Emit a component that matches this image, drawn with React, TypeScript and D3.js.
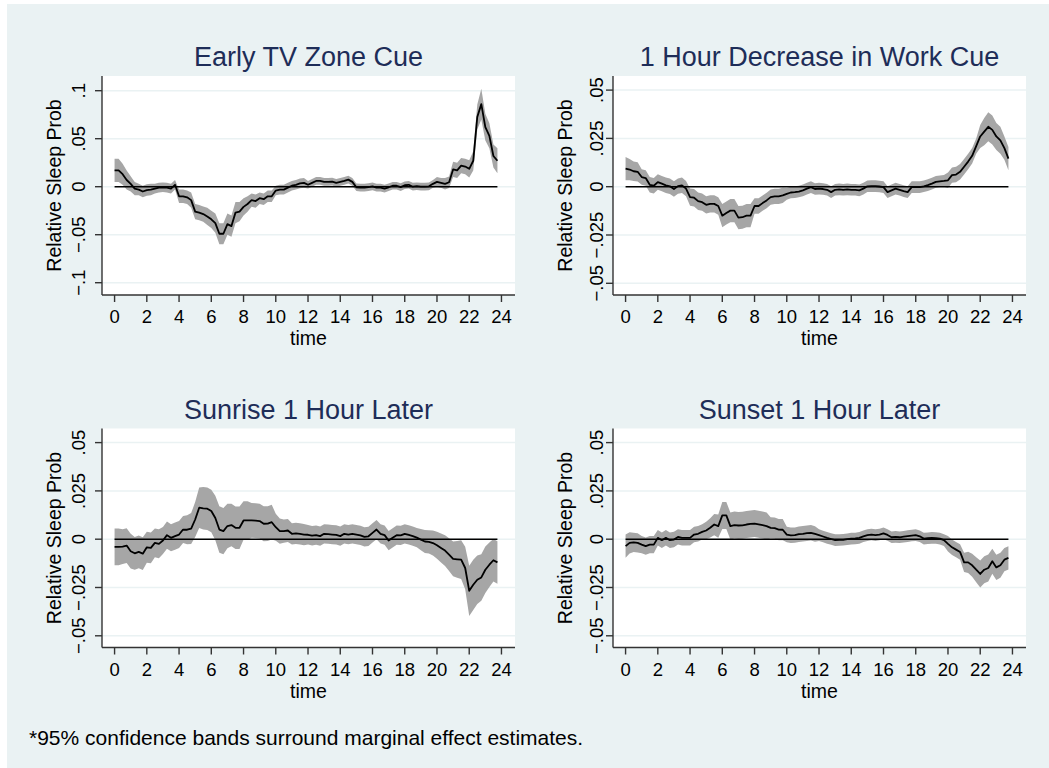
import { useRef, useEffect } from 'react'
import * as d3 from 'd3'

// quarter-hour grid used by every panel
const hours = d3.range(0, 24, 0.25)
const xTicks = d3.range(0, 25, 2)

const tvEst = [
  0.017, 0.017, 0.013, 0.007, 0.003, -0.002, -0.003, -0.005,
  -0.0035, -0.003, -0.002, -0.001, -0.0006, -0.001, -0.002, 0.002,
  -0.01, -0.01, -0.011, -0.014, -0.026, -0.027, -0.0285, -0.031,
  -0.034, -0.038, -0.049, -0.049, -0.039, -0.041, -0.027, -0.026,
  -0.021, -0.018, -0.014, -0.015, -0.012, -0.013, -0.01, -0.01,
  -0.004, -0.003, -0.003, -0.001, 0.001, 0.002, 0.0035, 0.004,
  0.002, 0.004, 0.006, 0.006, 0.005, 0.005, 0.0053, 0.004,
  0.005, 0.006, 0.0074, 0.005, -0.0006, -0.001, -0.001, -0.0005,
  0.0004, -0.001, -0.001, -0.002, -0.0006, 0.001, 0.001, -0.0005,
  0.0015, 0.002, 0, 0.0005, 0, 0, 0.0004, 0.003,
  0.005, 0.004, 0.003, 0.0046, 0.018, 0.017, 0.022, 0.021,
  0.0186, 0.027, 0.0726, 0.086, 0.062, 0.053, 0.032, 0.027,
]
const tvCi = [
  0.012, 0.012, 0.011, 0.01, 0.008, 0.007, 0.006, 0.006,
  0.006, 0.006, 0.005, 0.005, 0.005, 0.005, 0.005, 0.005,
  0.007, 0.007, 0.007, 0.008, 0.008, 0.008, 0.008, 0.009,
  0.009, 0.01, 0.011, 0.011, 0.011, 0.011, 0.011, 0.01,
  0.009, 0.008, 0.007, 0.007, 0.006, 0.006, 0.006, 0.006,
  0.005, 0.005, 0.005, 0.005, 0.005, 0.005, 0.005, 0.005,
  0.004, 0.004, 0.004, 0.004, 0.004, 0.004, 0.004, 0.004,
  0.004, 0.004, 0.004, 0.004, 0.004, 0.004, 0.004, 0.004,
  0.004, 0.004, 0.004, 0.004, 0.004, 0.004, 0.004, 0.004,
  0.004, 0.004, 0.004, 0.004, 0.004, 0.004, 0.004, 0.004,
  0.005, 0.005, 0.006, 0.006, 0.008, 0.008, 0.008, 0.008,
  0.009, 0.01, 0.013, 0.016, 0.014, 0.013, 0.012, 0.013,
]

const workEst = [
  0.0094, 0.0089, 0.008, 0.0077, 0.005, 0.0045, 0.001, 0.0005,
  0.0024, 0.0016, 0.0007, 0.0002, -0.0012, 0.0003, 0.0007, -0.001,
  -0.0054, -0.0057, -0.0075, -0.008, -0.0094, -0.0089, -0.0089, -0.01,
  -0.015, -0.0136, -0.0124, -0.0124, -0.016, -0.0158, -0.015, -0.015,
  -0.01, -0.01, -0.0085, -0.0071, -0.0054, -0.005, -0.005, -0.0045,
  -0.0037, -0.003, -0.0028, -0.0025, -0.0019, -0.001, -0.0002, -0.0012,
  -0.001, -0.0012, -0.0016, -0.0028, -0.0016, -0.0014, -0.0016, -0.0014,
  -0.0016, -0.0016, -0.0019, -0.001, 0.0002, 0.0003, 0.0003, 0.0001,
  -0.0002, -0.0028, -0.0019, -0.001, -0.0016, -0.0023, -0.0028, -0.0002,
  -0.0002, -0.0002, 0.0002, 0.0008, 0.0016, 0.0025, 0.0028, 0.003,
  0.0033, 0.006, 0.0063, 0.0077, 0.0103, 0.013, 0.016, 0.021,
  0.026, 0.0285, 0.031, 0.0294, 0.026, 0.024, 0.02, 0.0145,
]
const workCi = [
  0.006, 0.0055, 0.005, 0.005, 0.004, 0.004, 0.004, 0.004,
  0.004, 0.004, 0.004, 0.004, 0.004, 0.004, 0.004, 0.004,
  0.0045, 0.0045, 0.0045, 0.0045, 0.0045, 0.0045, 0.0045, 0.0045,
  0.006, 0.006, 0.006, 0.006, 0.006, 0.006, 0.006, 0.006,
  0.004, 0.004, 0.004, 0.004, 0.004, 0.004, 0.004, 0.004,
  0.003, 0.003, 0.003, 0.003, 0.003, 0.003, 0.003, 0.003,
  0.003, 0.003, 0.003, 0.003, 0.003, 0.003, 0.003, 0.003,
  0.003, 0.003, 0.003, 0.003, 0.003, 0.003, 0.003, 0.003,
  0.003, 0.003, 0.003, 0.003, 0.003, 0.003, 0.003, 0.003,
  0.003, 0.003, 0.003, 0.003, 0.003, 0.003, 0.003, 0.003,
  0.004, 0.004, 0.004, 0.004, 0.004, 0.004, 0.004, 0.004,
  0.006, 0.007, 0.0075, 0.0075, 0.007, 0.007, 0.006, 0.006,
]

const sunriseEst = [
  -0.004, -0.004, -0.0038, -0.0033, -0.0062, -0.0073, -0.0066, -0.0075,
  -0.0042, -0.0045, -0.0019, -0.0024, -0.0007, 0.0021, 0.0007, 0.0016,
  0.0024, 0.005, 0.0049, 0.0055, 0.0102, 0.0163, 0.016, 0.0158,
  0.0146, 0.011, 0.005, 0.0042, 0.0068, 0.0073, 0.0059, 0.0059,
  0.0097, 0.0097, 0.0097, 0.0096, 0.0094, 0.008, 0.0081, 0.0088,
  0.0062, 0.0042, 0.0042, 0.0045, 0.0028, 0.003, 0.0028, 0.0024,
  0.0023, 0.0018, 0.0021, 0.0016, 0.0028, 0.0026, 0.0024, 0.0022,
  0.0016, 0.0028, 0.0024, 0.0028, 0.0024, 0.002, 0.0012, 0.0015,
  0.0033, 0.005, 0.0028, 0.0021, -0.0007, 0.0007, 0.0021, 0.002,
  0.0028, 0.0022, 0.0016, 0.0008, -0.0002, -0.0012, -0.0014, -0.002,
  -0.0031, -0.0045, -0.0059, -0.008, -0.0102, -0.0104, -0.0106, -0.0149,
  -0.0267, -0.0236, -0.021, -0.0198, -0.0158, -0.0132, -0.0109, -0.012,
]
const sunriseCi = [
  0.0095, 0.0095, 0.009, 0.009, 0.009, 0.0085, 0.0085, 0.0085,
  0.008, 0.008, 0.0075, 0.0075, 0.007, 0.007, 0.007, 0.007,
  0.007, 0.007, 0.0075, 0.008, 0.009, 0.0105, 0.011, 0.011,
  0.011, 0.0115, 0.012, 0.012, 0.0115, 0.011, 0.011, 0.011,
  0.01, 0.01, 0.009, 0.009, 0.009, 0.009, 0.009, 0.009,
  0.007, 0.0065, 0.006, 0.006, 0.0055, 0.0055, 0.0055, 0.0055,
  0.005, 0.005, 0.005, 0.005, 0.005, 0.005, 0.005, 0.005,
  0.005, 0.005, 0.005, 0.005, 0.005, 0.005, 0.005, 0.005,
  0.005, 0.005, 0.005, 0.005, 0.005, 0.005, 0.005, 0.005,
  0.005, 0.005, 0.005, 0.005, 0.0055, 0.006, 0.006, 0.0065,
  0.007, 0.0075, 0.008, 0.0085, 0.009, 0.0095, 0.01, 0.011,
  0.013, 0.013, 0.0125, 0.012, 0.012, 0.0115, 0.011, 0.011,
]

const sunsetEst = [
  -0.0036, -0.0019, -0.0016, -0.0019, -0.0028, -0.0036, -0.0028, -0.0028,
  0.0007, -0.0005, 0.0007, -0.0005, -0.0002, 0.0012, 0.0007, 0.0007,
  0.0007, 0.0024, 0.0028, 0.0038, 0.0045, 0.0059, 0.0076, 0.0068,
  0.0123, 0.0123, 0.0068, 0.0073, 0.0071, 0.0072, 0.0076, 0.0079,
  0.0081, 0.0077, 0.0073, 0.0068, 0.0059, 0.0057, 0.005, 0.0049,
  0.0024, 0.002, 0.0021, 0.0026, 0.0028, 0.0031, 0.0033, 0.0027,
  0.0021, 0.0014, 0.0007, 0.0001, -0.0005, -0.0004, -0.0003, 0,
  0.0003, 0.0004, 0.0007, 0.0015, 0.0021, 0.0024, 0.0021, 0.0024,
  0.003, 0.0022, 0.001, 0.0012, 0.001, 0.0013, 0.0016, 0.0019,
  0.0021, 0.0015, 0.0003, 0.0005, 0.0007, 0.0006, 0.0003, -0.0005,
  -0.0024, -0.0042, -0.0054, -0.0066, -0.012, -0.012, -0.0135, -0.0158,
  -0.018, -0.0158, -0.0149, -0.0114, -0.0146, -0.0135, -0.0106, -0.0097,
]
const sunsetCi = [
  0.006, 0.0055, 0.005, 0.005, 0.0045, 0.0045, 0.0045, 0.0045,
  0.004, 0.004, 0.004, 0.004, 0.004, 0.004, 0.004, 0.004,
  0.004, 0.004, 0.004, 0.004, 0.0045, 0.005, 0.0055, 0.006,
  0.007, 0.007, 0.007, 0.007, 0.007, 0.007, 0.007, 0.007,
  0.007, 0.007, 0.007, 0.007, 0.0055, 0.0055, 0.0055, 0.0055,
  0.004, 0.004, 0.004, 0.004, 0.004, 0.004, 0.004, 0.004,
  0.003, 0.003, 0.003, 0.003, 0.003, 0.003, 0.003, 0.003,
  0.003, 0.003, 0.003, 0.003, 0.003, 0.003, 0.003, 0.003,
  0.003, 0.003, 0.003, 0.003, 0.003, 0.003, 0.003, 0.003,
  0.003, 0.003, 0.003, 0.003, 0.003, 0.003, 0.003, 0.003,
  0.004, 0.004, 0.004, 0.004, 0.005, 0.0055, 0.006, 0.0065,
  0.007, 0.007, 0.007, 0.0065, 0.0065, 0.0065, 0.006, 0.006,
]

const titles = ['Early TV Zone Cue', '1 Hour Decrease in Work Cue', 'Sunrise 1 Hour Later', 'Sunset 1 Hour Later']
const estimates = [tvEst, workEst, sunriseEst, sunsetEst]
const bands = [tvCi, workCi, sunriseCi, sunsetCi]

const wideTicks = [-0.1, -0.05, 0, 0.05, 0.1]
const wideLabels = ['−.1', '−.05', '0', '.05', '.1']
const narrowTicks = [-0.05, -0.025, 0, 0.025, 0.05]
const narrowLabels = ['−.05', '−.025', '0', '.025', '.05']

const FONT = '"Liberation Sans", Arial, Helvetica, sans-serif'

export default function App() {
  const svgRef = useRef<SVGSVGElement>(null)

  useEffect(() => {
    if (!svgRef.current) return
    const svg = d3.select(svgRef.current)
    svg.selectAll('*').remove()

    // page background
    svg.append('rect')
      .attr('x', 7).attr('y', 4)
      .attr('width', 1049 - 7).attr('height', 768 - 4)
      .attr('fill', '#eaf2f3')

    // plot box of top-left panel; others are offset
    const box = { left: 102, right: 515, top: 76, bottom: 295 }
    const colStep = 511
    const rowStep = 352.5

    titles.forEach((title, i) => {
      const col = i % 2
      const row = Math.floor(i / 2)
      const g = svg.append('g')
        .attr('transform', `translate(${col * colStep},${row * rowStep})`)

      const wide = i === 0
      const ticks = wide ? wideTicks : narrowTicks
      const labels = wide ? wideLabels : narrowLabels

      const x = d3.scaleLinear().domain([-0.78, 24.84]).range([box.left, box.right])
      const y = d3.scaleLinear()
        .domain(wide ? [-0.1128, 0.1153] : [-0.05606, 0.0573])
        .range([box.bottom, box.top])

      g.append('rect')
        .attr('x', box.left).attr('y', box.top)
        .attr('width', box.right - box.left).attr('height', box.bottom - box.top)
        .attr('fill', '#ffffff')

      // grid lines
      g.selectAll('.grid')
        .data(ticks)
        .join('line')
        .attr('x1', box.left).attr('x2', box.right)
        .attr('y1', (d) => y(d)).attr('y2', (d) => y(d))
        .attr('stroke', '#eaf2f3')
        .attr('stroke-width', 1.5)

      // confidence band
      const area = d3.area<number>()
        .x((_, k) => x(hours[k]))
        .y0((d, k) => y(d - bands[i][k]))
        .y1((d, k) => y(d + bands[i][k]))
      g.append('path')
        .datum(estimates[i])
        .attr('d', area)
        .attr('fill', '#a6a6a6')

      // zero reference
      g.append('line')
        .attr('x1', x(hours[0])).attr('x2', x(hours[hours.length - 1]))
        .attr('y1', y(0)).attr('y2', y(0))
        .attr('stroke', '#000').attr('stroke-width', 1.5)

      const line = d3.line<number>()
        .x((_, k) => x(hours[k]))
        .y((d) => y(d))
      g.append('path')
        .datum(estimates[i])
        .attr('d', line)
        .attr('fill', 'none')
        .attr('stroke', '#000')
        .attr('stroke-width', 1.8)
        .attr('stroke-linejoin', 'round')

      // axes
      g.append('line')
        .attr('x1', box.left).attr('x2', box.left)
        .attr('y1', box.top).attr('y2', box.bottom)
        .attr('stroke', '#333').attr('stroke-width', 1.4)
      g.append('line')
        .attr('x1', box.left).attr('x2', box.right)
        .attr('y1', box.bottom).attr('y2', box.bottom)
        .attr('stroke', '#333').attr('stroke-width', 1.4)

      g.selectAll('.ytick')
        .data(ticks)
        .join('line')
        .attr('x1', box.left - 7).attr('x2', box.left)
        .attr('y1', (d) => y(d)).attr('y2', (d) => y(d))
        .attr('stroke', '#333').attr('stroke-width', 1.4)

      const labelX = col === 0 ? 85 : 92
      g.selectAll('.ylab')
        .data(ticks)
        .join('text')
        .attr('transform', (d) => `translate(${labelX},${y(d)}) rotate(-90)`)
        .attr('text-anchor', 'middle')
        .attr('font-family', FONT)
        .attr('font-size', 18.5)
        .attr('fill', '#000')
        .text((_, k) => labels[k])

      g.selectAll('.xtick')
        .data(xTicks)
        .join('line')
        .attr('x1', (d) => x(d)).attr('x2', (d) => x(d))
        .attr('y1', box.bottom).attr('y2', box.bottom + 7)
        .attr('stroke', '#333').attr('stroke-width', 1.4)

      g.selectAll('.xlab')
        .data(xTicks)
        .join('text')
        .attr('x', (d) => x(d))
        .attr('y', 323)
        .attr('text-anchor', 'middle')
        .attr('font-family', FONT)
        .attr('font-size', 18.5)
        .attr('fill', '#000')
        .text((d) => String(d))

      const midX = (box.left + box.right) / 2
      g.append('text')
        .attr('x', midX).attr('y', 345)
        .attr('text-anchor', 'middle')
        .attr('font-family', FONT)
        .attr('font-size', 19.5)
        .attr('fill', '#000')
        .text('time')

      g.append('text')
        .attr('transform', `translate(61,${(box.top + box.bottom) / 2}) rotate(-90)`)
        .attr('text-anchor', 'middle')
        .attr('font-family', FONT)
        .attr('font-size', 19.5)
        .attr('fill', '#000')
        .text('Relative Sleep Prob')

      g.append('text')
        .attr('x', midX).attr('y', 66)
        .attr('text-anchor', 'middle')
        .attr('font-family', FONT)
        .attr('font-size', 27)
        .attr('fill', '#1e2d58')
        .text(title)
    })

    svg.append('text')
      .attr('x', 29).attr('y', 745)
      .attr('font-family', FONT)
      .attr('font-size', 21)
      .attr('fill', '#000')
      .text('*95% confidence bands surround marginal effect estimates.')
  }, [])

  return (
    <div style={{ position: 'absolute', left: 0, top: 0 }}>
      <svg ref={svgRef} width={1049} height={768} style={{ display: 'block' }} />
    </div>
  )
}
